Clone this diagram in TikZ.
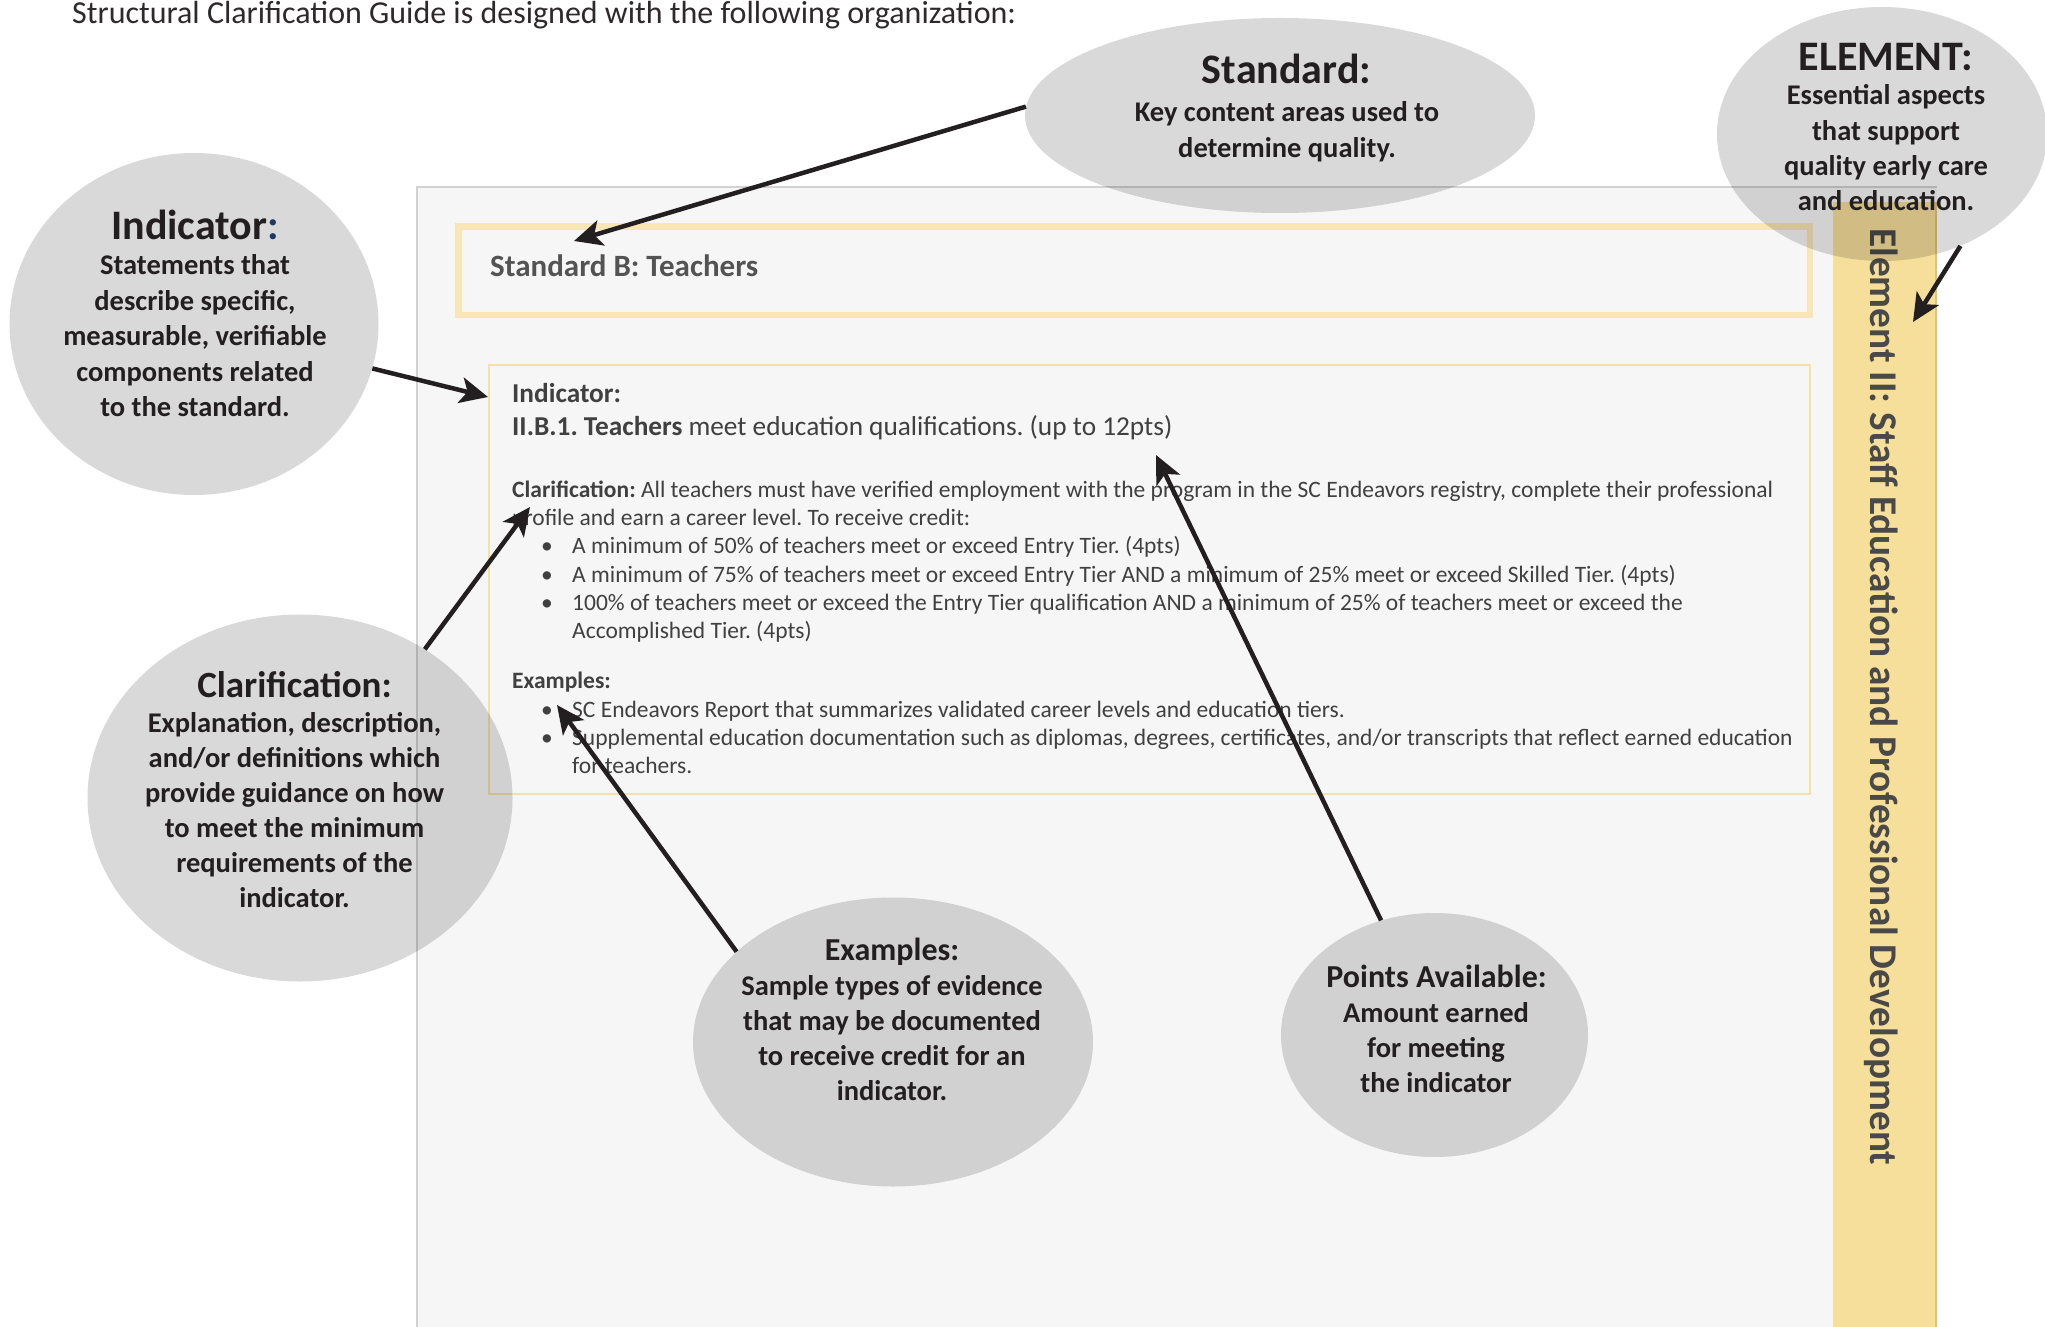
\documentclass[tikz,border=0pt]{standalone}
\usepackage{fontspec}
\setmainfont{Carlito}
\usetikzlibrary{shapes.geometric,arrows.meta}
\definecolor{panelfill}{HTML}{F6F6F6}
\definecolor{panelline}{HTML}{D2D2D2}
\definecolor{barfill}{HTML}{F6DF9A}
\definecolor{barline}{HTML}{E3C465}
\definecolor{boxthick}{HTML}{F8E6B9}
\definecolor{boxthin}{HTML}{F6E0A6}
\definecolor{bubble}{HTML}{D9D9D9}
\definecolor{ink}{HTML}{231F20}
\definecolor{gtext}{HTML}{404040}
\definecolor{navy}{HTML}{1F3864}
\newcommand\fsz[2]{\fontsize{#1bp}{#2bp}\selectfont}
\frenchspacing
\begin{document}
\frenchspacing
\begin{tikzpicture}[x=1bp,y=-1bp,
  bubblestyle/.style={ellipse, fill=bubble, draw=none, inner sep=0pt},
  arr/.style={line width=4.5bp, draw=ink, -{Stealth[length=28bp,width=26bp,inset=7bp]}},
  btitle/.style={anchor=base, inner sep=0pt, text=ink, font=\bfseries\fsz{42}{46}},
  bsmalltitle/.style={anchor=base, inner sep=0pt, text=ink, font=\bfseries\fsz{32}{36}},
  bbody/.style={anchor=base, inner sep=0pt, text=ink, font=\bfseries\fsz{28.5}{34}},
  ptext/.style={anchor=base west, inner sep=0pt, text=gtext, font=\frenchspacing\fsz{23.5}{28}},
  pbig/.style={anchor=base west, inner sep=0pt, text=gtext, font=\frenchspacing\fsz{27.3}{32}},
  bulletdot/.style={anchor=base west, inner sep=0pt, text=gtext, font=\fsz{23.5}{28}},
]
\useasboundingbox (0,0) rectangle (2045,1327);
\fill[white] (0,0) rectangle (2045,1327);

% header
\node[anchor=base west, inner sep=0pt, text=ink!95, font=\fsz{32}{38}] (header) at (72,24)
  {Structural Clarification Guide is designed with the following organization:};

% panel
\fill[panelfill] (417,187) rectangle (1937,1335);
\draw[panelline, line width=1.5bp] (417,1335) -- (417,187) -- (1937,187);

% standard box
\draw[boxthick, line width=6.5bp] (458.5,226.5) rectangle (1810,315);
\node[anchor=base west, inner sep=0pt, text=gtext!90, font=\bfseries\fsz{31}{36}] (stdB) at (490,277) {Standard B: Teachers};

% indicator box
\draw[boxthin, line width=2.5bp] (489,365) rectangle (1810,794);
\node[pbig, font=\bfseries\fsz{27.3}{32}] (indLbl) at (512,403) {Indicator:};
\node[pbig] (indTxt) at (512,435) {\textbf{II.B.1. Teachers} meet education qualifications. (up to 12pts)};
\node[ptext] (cl1) at (512,497) {\textbf{Clarification:} All teachers must have verified employment with the program in the SC Endeavors registry, complete their professional};
\node[ptext] (cl2) at (512,525) {profile and earn a career level. To receive credit:};
\node[bulletdot] (bd1) at (541,553) {•};
\node[ptext] (b1) at (572,553) {A minimum of 50\% of teachers meet or exceed Entry Tier. (4pts)};
\node[bulletdot] (bd2) at (541,582) {•};
\node[ptext] (b2) at (572,582) {A minimum of 75\% of teachers meet or exceed Entry Tier AND a minimum of 25\% meet or exceed Skilled Tier. (4pts)};
\node[bulletdot] (bd3) at (541,610) {•};
\node[ptext] (b3) at (572,610) {100\% of teachers meet or exceed the Entry Tier qualification AND a minimum of 25\% of teachers meet or exceed the};
\node[ptext] (b3b) at (572,638) {Accomplished Tier. (4pts)};
\node[ptext, font=\bfseries\fsz{23.5}{28}] (exLbl) at (512,688) {Examples:};
\node[bulletdot] (ed1) at (541,717) {•};
\node[ptext] (e1) at (572,717) {SC Endeavors Report that summarizes validated career levels and education tiers.};
\node[bulletdot] (ed2) at (541,745) {•};
\node[ptext] (e2) at (572,745) {Supplemental education documentation such as diplomas, degrees, certificates, and/or transcripts that reflect earned education};
\node[ptext] (e2b) at (572,773) {for teachers.};

% element bar
\fill[barfill] (1833,202) rectangle (1937,1335);
\draw[barline, line width=1.5bp] (1936,202) -- (1936,1335);
\node[anchor=west, rotate=-90, inner sep=0pt, text=gtext!95, font=\bfseries\fsz{39.3}{44}] (elTxt) at (1881,228)
  {Element II: Staff Education and Professional Development};

% bubbles
\begin{scope}[blend mode=multiply]
\node[bubblestyle, minimum width=510bp, minimum height=195bp] (stdE) at (1280,115.5) {};
\node[bubblestyle, minimum width=330bp, minimum height=254bp] (elE) at (1882,134) {};
\node[bubblestyle, minimum width=369bp, minimum height=342bp] (indE) at (194,324) {};
\node[bubblestyle, minimum width=425bp, minimum height=367bp] (clarE) at (300,798) {};
\node[bubblestyle, minimum width=400bp, minimum height=289bp] (exE) at (893,1042) {};
\node[bubblestyle, minimum width=307bp, minimum height=244bp] (ptsE) at (1434.5,1035) {};
\end{scope}

% bubble texts
\node[btitle] (stdT) at (1286.5,84) {Standard:};
\foreach \t [count=\i] in {Key content areas used to, determine quality.}
  \node[bbody] (stdL\i) at (1287,{122+36*(\i-1)}) {\t};

\node[btitle] (elT) at (1886,71) {ELEMENT:};
\foreach \t [count=\i] in {Essential aspects, that support, quality early care, and education.}
  \node[bbody] (elL\i) at (1886,{105+35.3*(\i-1)}) {\t};

\node[btitle] (indT) at (195,240) {Indicator\textcolor{navy}{:}};
\foreach \t [count=\i] in {Statements that, {describe specific,}, {measurable, verifiable}, components related, to the standard.}
  \node[bbody] (indL\i) at (195,{275+35.4*(\i-1)}) {\t};

\node[btitle, font=\bfseries\fsz{37}{42}] (clarT) at (294.5,697) {Clarification:};
\foreach \t [count=\i] in {{Explanation, description,}, and/or definitions which, provide guidance on how, to meet the minimum, requirements of the, indicator.}
  \node[bbody] (clarL\i) at (294.5,{732+35*(\i-1)}) {\t};

\node[bsmalltitle] (exT) at (892,960) {Examples:};
\foreach \t [count=\i] in {Sample types of evidence, that may be documented, to receive credit for an, indicator.}
  \node[bbody] (exL\i) at (892,{995+35*(\i-1)}) {\t};

\node[bsmalltitle] (ptsT) at (1436.5,987) {Points Available:};
\foreach \t [count=\i] in {Amount earned, for meeting, the indicator}
  \node[bbody] (ptsL\i) at (1436,{1022+35*(\i-1)}) {\t};

% arrow targets
\coordinate (tStd) at (574,241);
\coordinate (tInd) at (488,397);
\coordinate (tClar) at (530,507);
\coordinate (tEx) at (557,705);
\coordinate (tPts) at (1156,455);
\coordinate (tEl) at (1913,322);

\draw[arr] (stdE.178) -- (tStd);
\draw[arr] (indE.-14) -- (tInd);
\draw[arr] (clarE.50) -- (tClar);
\draw[arr] (exE.150) -- (tEx);
\draw[arr] (ptsE.115) -- (tPts);
\draw[arr] (elE.-55) -- (tEl);
\end{tikzpicture}
\end{document}
